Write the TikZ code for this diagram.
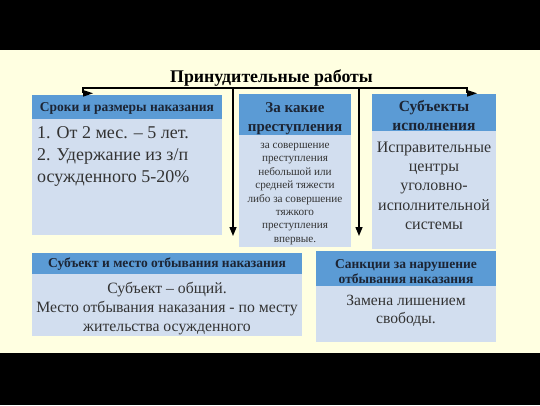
\documentclass[tikz,border=0pt]{standalone}
\usepackage{fontspec}
\setmainfont{Liberation Serif}
\usetikzlibrary{arrows.meta}
\definecolor{cream}{HTML}{FFFFE1}
\definecolor{hdr}{HTML}{5B9BD5}
\definecolor{bdy}{HTML}{D2DEEF}
\definecolor{txt}{HTML}{333333}
\definecolor{htxt}{HTML}{1C2433}
\begin{document}
\begin{tikzpicture}[x=1pt,y=-1pt,
  hbox/.style={fill=hdr, inner sep=0pt, anchor=north west},
  htext/.style={text=htxt, inner sep=0pt, align=center, anchor=center},
  bbox/.style={fill=bdy, inner sep=0pt, anchor=north west},
  btext/.style={text=txt, inner sep=0pt, align=center, anchor=north},
  conn/.style={line width=1.4pt, black},
  tip/.style={-{Triangle[length=9pt,width=7pt]}}
]
\useasboundingbox (0,0) rectangle (540,405);
\fill[black] (0,0) rectangle (540,405);
\fill[cream] (0,50) rectangle (540,353);

% title
\node[font=\bfseries\fontsize{17.8}{20}\selectfont, anchor=base, inner sep=0pt] (title) at (271.5,82.5) {Принудительные работы};

% box 1
\node[bbox, minimum width=190pt, minimum height=116pt] (b1) at (32,119) {};
\node[hbox, minimum width=190pt, minimum height=24pt] (h1) at (32,95) {};
\node[htext, font=\bfseries\fontsize{13.5}{15}\selectfont] (h1t) at (127,108) {Сроки и размеры наказания};
\node[text=txt, inner sep=0pt, align=left, anchor=north west, font=\fontsize{18}{22}\selectfont] (t1) at (37,126.5) {1. От 2 мес. – 5 лет.\\2. Удержание из з/п\\осужденного 5-20\%};

% box 2
\node[bbox, minimum width=112pt, minimum height=112pt] (b2) at (239,135) {};
\node[hbox, minimum width=112pt, minimum height=41pt] (h2) at (239,94) {};
\node[htext, font=\bfseries\fontsize{15}{19}\selectfont] (h2t) at (295,119) {За какие\\преступления};
\node[btext, font=\fontsize{11.2}{13.4}\selectfont] (t2) at (295,143) {за совершение\\преступления\\небольшой или\\средней тяжести\\либо за совершение\\тяжкого\\преступления\\впервые.};

% box 3
\node[bbox, minimum width=124pt, minimum height=118pt] (b3) at (372,131) {};
\node[hbox, minimum width=124pt, minimum height=37pt] (h3) at (372,94) {};
\node[htext, font=\bfseries\fontsize{15.5}{19}\selectfont] (h3t) at (434,115.5) {Субъекты\\исполнения};
\node[btext, font=\fontsize{16}{19.3}\selectfont] (t3) at (434,141.5) {Исправительные\\центры\\уголовно-\\исполнительной\\системы};

% box 4
\node[bbox, minimum width=270pt, minimum height=62pt] (b4) at (32,274) {};
\node[hbox, minimum width=270pt, minimum height=21pt] (h4) at (32,253) {};
\node[htext, font=\bfseries\fontsize{13.5}{15}\selectfont] (h4t) at (167,264.5) {Субъект и место отбывания наказания};
\node[btext, font=\fontsize{15.75}{19}\selectfont] (t4) at (167,282) {Субъект – общий.\\Место отбывания наказания - по месту\\жительства осужденного};

% box 5
\node[bbox, minimum width=180pt, minimum height=56pt] (b5) at (316,286) {};
\node[hbox, minimum width=180pt, minimum height=35pt] (h5) at (316,251) {};
\node[htext, font=\bfseries\fontsize{13.5}{15}\selectfont] (h5t) at (406,271.5) {Санкции за нарушение\\отбывания наказания};
\node[btext, font=\fontsize{15.6}{18}\selectfont] (t5) at (406,295) {Замена лишением\\свободы.};

% connectors
\coordinate (l0) at (83,88);
\coordinate (ld) at (83,93);
\coordinate (r0) at (467,88);
\coordinate (rd) at (467,93);
\coordinate (m1) at (233,88);
\coordinate (m1d) at (233,236);
\coordinate (m2) at (359,88);
\coordinate (m2d) at (359,236);
\draw[conn] (ld) -- (l0) -- (r0) -- (rd);
\fill (ld) ++(0,-3) -- ++(10,3.3) -- ++(-10,3.4) -- cycle;
\fill (rd) ++(0,-3) -- ++(10,3.3) -- ++(-10,3.4) -- cycle;
\draw[conn, tip] (m1) -- (m1d);
\draw[conn, tip] (m2) -- (m2d);
\end{tikzpicture}
\end{document}
